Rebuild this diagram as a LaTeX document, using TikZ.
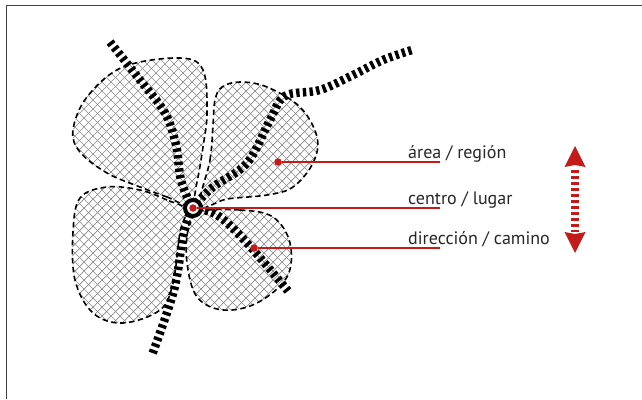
\documentclass[tikz,border=0pt]{standalone}
\usepackage{fontspec}
\setmainfont{PT Sans}
\definecolor{myred}{HTML}{C41A1A}
\definecolor{hatch}{HTML}{8A8A8A}
\tikzset{
  petal/.style={draw=black, line width=1.6pt, dash pattern=on 5.5pt off 3.5pt},
  hatchline/.style={draw=hatch, line width=0.7pt},
  rail/.style={line width=8.5pt, dash pattern=on 3.4pt off 3.3pt, black},
  redline/.style={draw=myred, line width=1.4pt},
  reddot/.style={circle, fill=myred, inner sep=0pt, minimum size=7.5pt},
  lbl/.style={anchor=base west, inner sep=0pt, font=\fontsize{18}{20}\selectfont, text=black!85},
}
\begin{document}
\begin{tikzpicture}[x=1pt,y=-1pt]
\useasboundingbox (0,0) rectangle (642,399);
\draw[line width=1.2pt, black!75] (6.5,399) -- (6.5,5.5) -- (642,5.5);

% petals
\def\petalUL{(190,205) (167,197) (140,187) (107,173) (80,152) (73,130) (87,97) (123,67) (180,58) (203,70) (207,113) (203,147) (197,182)}
\def\petalUR{(200,206) (210,160) (213,125) (215,100) (222,87) (240,82) (267,87) (300,107) (317,137) (313,163) (293,187) (267,195) (227,199)}
\def\petalLL{(186,210) (167,200) (140,190) (107,187) (80,198) (73,232) (75,280) (93,313) (123,323) (160,310) (173,283) (180,232)}
\def\petalLR{(198,212) (240,210) (273,217) (290,243) (287,277) (257,303) (223,310) (197,297) (187,263) (188,230)}
\foreach \p in {\petalUL,\petalUR,\petalLL,\petalLR}{
  \begin{scope}
    \clip plot[smooth cycle, tension=0.6] coordinates {\p};
    \foreach \i in {-300,-291,...,400}{
      \draw[hatchline] (\i,40) -- ++(300,300);
      \draw[hatchline] (\i+300,40) -- ++(-300,300);
    }
  \end{scope}
  \draw[petal] plot[smooth cycle, tension=0.6] coordinates {\p};
}

% rails
\draw[rail] plot[smooth, tension=0.6] coordinates {(110,42) (140,80) (165,113) (176,145) (181,180) (192,208)};
\draw[rail] plot[smooth, tension=0.6] coordinates {(192,208) (183,237) (174,290) (152,355)};
\draw[rail] plot[smooth, tension=0.6] coordinates {(192,208) (213,187) (247,163) (270,120) (285,96) (320,90) (353,75) (383,60) (412,50)};
\draw[rail] plot[smooth, tension=0.6] coordinates {(192,208) (217,215) (247,243) (288,291)};

% centre
\node[circle, draw=black, line width=4pt, minimum size=16pt, inner sep=0pt, fill=white] (ring) at (193,208) {};
\node[reddot] (dc) at (193,208) {};
\node[reddot] (da) at (278,162) {};
\node[reddot] (dd) at (254,248) {};

% labels
\coordinate (ea) at (440,162);
\coordinate (ec) at (440,208);
\coordinate (ed) at (440,248);
\node[lbl] (la) at (408,158.5) {área / región};
\node[lbl] (lc) at (408,204.5) {centro / lugar};
\node[lbl] (ld) at (408,244.5) {dirección / camino};
\draw[redline] (da) -- (ea);
\draw[redline] (dc) -- (ec);
\draw[redline] (dd) -- (ed);

% double arrow
\coordinate (at) at (575,146);
\coordinate (ab) at (575,253);
\fill[myred] (at) -- (585.5,167) -- (575,165) -- (564.5,167) -- cycle;
\fill[myred] (ab) -- (585.5,232) -- (575,234) -- (564.5,232) -- cycle;
\draw[myred, line width=8pt, dash pattern=on 3pt off 3pt] (575,170) -- (575,232);
\end{tikzpicture}
\end{document}
